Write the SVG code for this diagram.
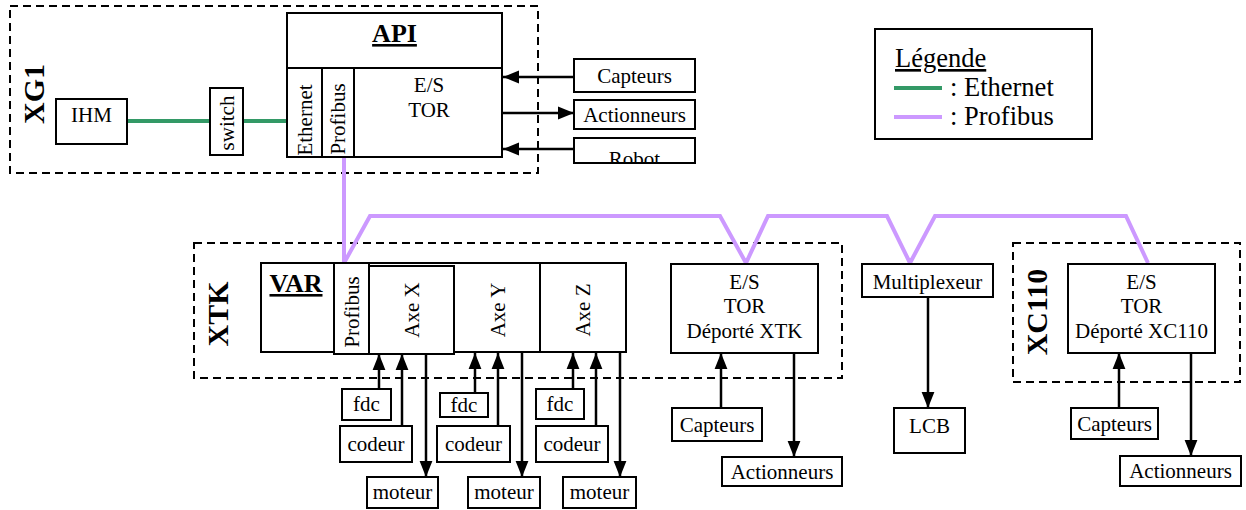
<svg xmlns="http://www.w3.org/2000/svg" width="1246" height="510" viewBox="0 0 1246 510">
<style>
text{font-family:"Liberation Serif","Times New Roman",serif;font-size:21px;fill:#000}
.c{text-anchor:middle}
.b{font-weight:bold}
.big{font-size:30px;font-weight:bold;text-anchor:middle}
.ttl{font-size:26px;font-weight:bold;text-anchor:middle;text-decoration:underline}
.box{fill:#fff;stroke:#000;stroke-width:2}
.nb{fill:none;stroke:#000;stroke-width:2}
.grp{fill:none;stroke:#000;stroke-width:2;stroke-dasharray:8,5}
.arr{stroke:#000;stroke-width:2.5;fill:none;marker-end:url(#ah)}
.eth{stroke:#339966;stroke-width:4;fill:none}
.pro{stroke:#cc99ff;stroke-width:4;fill:none;stroke-linejoin:miter}
.leg{font-size:26.5px}
</style>
<defs>
<marker id="ah" viewBox="0 0 10 10" refX="10" refY="5" markerWidth="6.4" markerHeight="6.4" markerUnits="strokeWidth" orient="auto">
<path d="M0,1 L10,5 L0,9 z" fill="#000"/>
</marker>
<clipPath id="robclip"><rect x="574" y="138" width="122" height="24"/></clipPath>
</defs>

<g id="groups">
<rect id="XG1" class="grp" x="10" y="6" width="528" height="167"/>
<rect id="XTK" class="grp" x="194" y="243" width="648" height="135"/>
<rect id="XC110" class="grp" x="1013" y="243" width="227" height="139"/>
<text class="big" transform="rotate(-90 34 94)" x="34" y="104">XG1</text>
<text class="big" transform="rotate(-90 218 314)" x="218" y="324">XTK</text>
<text class="big" transform="rotate(-90 1037 312)" x="1037" y="322">XC110</text>
</g>

<g id="connectors">
<path class="eth" d="M127,121 L210,121 M243,121 L287,121"/>
<path class="pro" d="M344,158 L344,263 L370,216 L720,216 L746,263 L768,216 L887,216 L910,263 L935,216 L1126,216 L1148,263"/>
<line class="arr" x1="574" y1="77" x2="503" y2="77"/>
<line class="arr" x1="503" y1="113" x2="574" y2="113"/>
<line class="arr" x1="574" y1="149" x2="503" y2="149"/>
<line class="arr" x1="379" y1="389" x2="379" y2="354"/>
<line class="arr" x1="402" y1="426" x2="402" y2="354"/>
<line class="arr" x1="426" y1="354" x2="426" y2="477"/>
<line class="arr" x1="475" y1="393" x2="475" y2="353"/>
<line class="arr" x1="498" y1="426" x2="498" y2="353"/>
<line class="arr" x1="522" y1="353" x2="522" y2="477"/>
<line class="arr" x1="573" y1="389" x2="573" y2="353"/>
<line class="arr" x1="596" y1="426" x2="596" y2="353"/>
<line class="arr" x1="620" y1="353" x2="620" y2="477"/>
<line class="arr" x1="721" y1="408" x2="721" y2="353"/>
<line class="arr" x1="794" y1="353" x2="794" y2="457"/>
<line class="arr" x1="928" y1="297" x2="928" y2="408"/>
<line class="arr" x1="1119" y1="408" x2="1119" y2="353"/>
<line class="arr" x1="1191" y1="353" x2="1191" y2="456"/>
</g>

<g id="IHM"><rect class="box" x="56" y="99" width="71" height="45"/><text class="c" x="91.5" y="122">IHM</text></g>
<g id="switch"><rect class="box" x="210" y="88" width="33" height="67"/><text class="c" transform="rotate(-90 226.5 123)" x="226.5" y="130">switch</text></g>

<g id="API">
<rect class="box" x="287" y="13" width="215" height="144"/>
<line class="nb" x1="287" y1="68" x2="502" y2="68"/>
<line class="nb" x1="322" y1="68" x2="322" y2="157"/>
<line class="nb" x1="354" y1="68" x2="354" y2="157"/>
<text class="ttl" x="394.5" y="42">API</text>
<text class="c" transform="rotate(-90 305 120)" x="305" y="127">Ethernet</text>
<text class="c" transform="rotate(-90 338 119)" x="338" y="126">Profibus</text>
<text class="c" x="429" y="92">E/S</text>
<text class="c" x="429" y="117">TOR</text>
</g>

<g id="capteurs-api"><rect class="box" x="574" y="59" width="121" height="33"/><text class="c" x="634.5" y="83">Capteurs</text></g>
<g id="actionneurs-api"><rect class="box" x="574" y="100" width="121" height="29"/><text class="c" x="634.5" y="122">Actionneurs</text></g>
<g id="robot"><rect class="box" x="574" y="138" width="121" height="25"/><text class="c" x="634.5" y="166" clip-path="url(#robclip)">Robot</text></g>

<g id="legend">
<rect class="box" x="875" y="29" width="217" height="110"/>
<text class="leg" x="895" y="67" text-decoration="underline">Légende</text>
<line class="eth" x1="894" y1="88" x2="942" y2="88"/>
<text class="leg" x="950" y="96">: Ethernet</text>
<line class="pro" x1="894" y1="117" x2="942" y2="117"/>
<text class="leg" x="950" y="125">: Profibus</text>
</g>

<g id="VAR">
<rect class="box" x="261" y="263" width="365" height="89"/>
<rect class="box" x="334" y="263" width="35" height="91"/>
<rect class="box" x="369" y="266" width="85" height="88"/>
<line class="nb" x1="540" y1="263" x2="540" y2="352"/>
<text class="ttl" x="296" y="292">VAR</text>
<text class="c" transform="rotate(-90 352 312)" x="352" y="319">Profibus</text>
<text class="c" transform="rotate(-90 412 310)" x="412" y="317">Axe X</text>
<text class="c" transform="rotate(-90 498 310)" x="498" y="317">Axe Y</text>
<text class="c" transform="rotate(-90 583 310)" x="583" y="317">Axe Z</text>
</g>

<g id="fdc1"><rect class="box" x="342" y="389" width="49" height="31"/><text class="c" x="366.5" y="411">fdc</text></g>
<g id="codeur1"><rect class="box" x="340" y="426" width="72" height="36"/><text class="c" x="376" y="451">codeur</text></g>
<g id="moteur1"><rect class="box" x="367" y="477" width="71" height="31"/><text class="c" x="402.5" y="499">moteur</text></g>
<g id="fdc2"><rect class="box" x="440" y="393" width="48" height="24"/><text class="c" x="464" y="412">fdc</text></g>
<g id="codeur2"><rect class="box" x="437" y="426" width="73" height="36"/><text class="c" x="473.5" y="451">codeur</text></g>
<g id="moteur2"><rect class="box" x="468" y="477" width="72" height="31"/><text class="c" x="504" y="499">moteur</text></g>
<g id="fdc3"><rect class="box" x="536" y="389" width="48" height="30"/><text class="c" x="560" y="411">fdc</text></g>
<g id="codeur3"><rect class="box" x="536" y="426" width="72" height="36"/><text class="c" x="572" y="451">codeur</text></g>
<g id="moteur3"><rect class="box" x="563" y="477" width="73" height="31"/><text class="c" x="599.5" y="499">moteur</text></g>

<g id="ES-XTK">
<rect class="box" x="671" y="264" width="147" height="89"/>
<text class="c" x="744.5" y="289">E/S</text>
<text class="c" x="744.5" y="313">TOR</text>
<text class="c" x="744.5" y="338">Déporté XTK</text>
</g>
<g id="capteurs-xtk"><rect class="box" x="672" y="408" width="90" height="33"/><text class="c" x="717" y="432">Capteurs</text></g>
<g id="actionneurs-xtk"><rect class="box" x="722" y="457" width="120" height="29"/><text class="c" x="782" y="479">Actionneurs</text></g>

<g id="multiplexeur"><rect class="box" x="862" y="264" width="131" height="33"/><text class="c" x="927.5" y="289">Multiplexeur</text></g>
<g id="LCB"><rect class="box" x="894" y="408" width="71" height="45"/><text class="c" x="929.5" y="433">LCB</text></g>

<g id="ES-XC110">
<rect class="box" x="1068" y="264" width="147" height="89"/>
<text class="c" x="1141.5" y="289">E/S</text>
<text class="c" x="1141.5" y="313">TOR</text>
<text class="c" x="1141.5" y="338">Déporté XC110</text>
</g>
<g id="capteurs-xc110"><rect class="box" x="1071" y="408" width="87" height="31"/><text class="c" x="1114.5" y="431">Capteurs</text></g>
<g id="actionneurs-xc110"><rect class="box" x="1120" y="456" width="121" height="30"/><text class="c" x="1180.5" y="478">Actionneurs</text></g>
</svg>
